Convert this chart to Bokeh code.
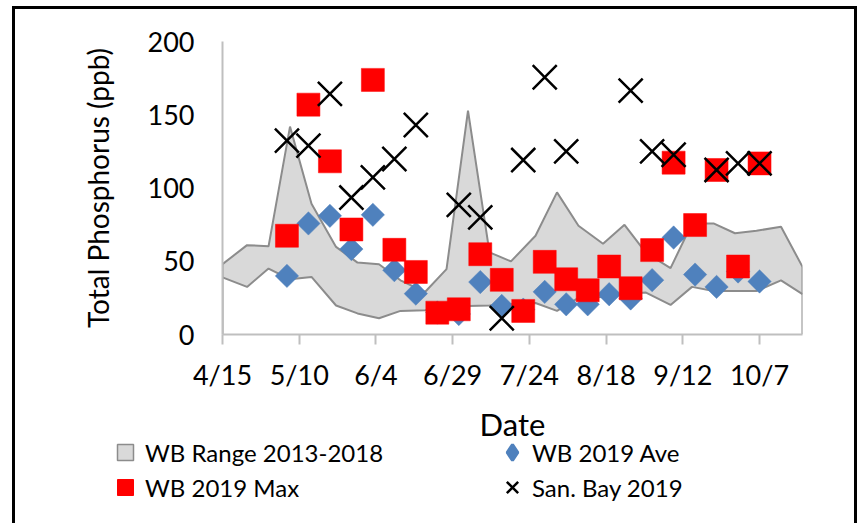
import numpy as np
import pandas as pd
from bokeh.plotting import figure
from bokeh.layouts import column
from bokeh.models import (Range1d, FixedTicker, CustomJSTickFormatter, Legend,
                          LegendItem, ColumnDataSource)
from bokeh.embed import file_html
from bokeh.resources import INLINE

# ---------------- data ----------------
range_dates = ["2019-04-15", "2019-04-23", "2019-04-30", "2019-05-07", "2019-05-14",
               "2019-05-22", "2019-05-29", "2019-06-05", "2019-06-12", "2019-06-20",
               "2019-06-27", "2019-07-04", "2019-07-11", "2019-07-18", "2019-07-26",
               "2019-08-02", "2019-08-09", "2019-08-17", "2019-08-24", "2019-08-31",
               "2019-09-08", "2019-09-15", "2019-09-22", "2019-09-29", "2019-10-06",
               "2019-10-14", "2019-10-21"]
range_low = [39.0, 32.5, 45.0, 37.7, 39.3, 19.8, 14.4, 11.1, 16.1, 16.5,
             18.8, 19.5, 19.8, 20.9, 21.5, 16.1, 25.0, 25.6, 27.7, 28.6,
             20.2, 32.5, 29.7, 29.7, 29.7, 36.9, 27.5]
range_high = [48.0, 61.0, 60.2, 141.9, 89.2, 59.8, 49.1, 48.0, 37.0, 29.0,
              44.6, 152.8, 56.1, 49.9, 67.4, 97.0, 74.2, 61.9, 74.9, 55.7,
              45.3, 75.8, 75.8, 69.1, 70.8, 73.5, 46.2]

wb_dates = ["2019-05-06", "2019-05-13", "2019-05-20", "2019-05-27", "2019-06-03",
            "2019-06-10", "2019-06-17", "2019-06-24", "2019-07-01", "2019-07-08",
            "2019-07-15", "2019-07-22", "2019-07-29", "2019-08-05", "2019-08-12",
            "2019-08-19", "2019-08-26", "2019-09-02", "2019-09-09", "2019-09-16",
            "2019-09-23", "2019-09-30", "2019-10-07"]
wb_ave = [40.0, 75.8, 81.0, 58.3, 81.7, 43.9, 27.9, 15.0, 14.0, 35.8,
          19.5, 17.0, 29.1, 20.6, 20.6, 27.5, 24.6, 37.1, 66.2, 40.9,
          32.5, 43.0, 36.2]
wb_max = [67.4, 156.9, 118.2, 71.7, 173.8, 57.8, 42.7, 14.9, 17.2, 54.8,
          37.3, 16.1, 49.6, 37.7, 30.2, 46.4, 31.6, 57.6, 117.3, 74.7,
          112.3, 46.4, 116.8]

sb_dates = ["2019-05-06", "2019-05-13", "2019-05-20", "2019-05-27", "2019-06-03",
            "2019-06-10", "2019-06-17", "2019-07-01", "2019-07-08", "2019-07-15",
            "2019-07-22", "2019-07-29", "2019-08-05", "2019-08-26", "2019-09-02",
            "2019-09-09", "2019-09-23", "2019-09-30", "2019-10-07"]
sb_vals = [132.3, 128.9, 164.2, 93.5, 107.2, 119.8, 143.0, 88.5, 79.9, 11.1,
           119.1, 175.6, 125.0, 166.5, 125.0, 122.7, 112.3, 116.8, 116.8]

tick_dates = ["2019-04-15", "2019-05-10", "2019-06-04", "2019-06-29",
              "2019-07-24", "2019-08-18", "2019-09-12", "2019-10-07"]
y_ticks = [0, 50, 100, 150, 200]

series_labels = ["WB Range 2013-2018", "WB 2019 Ave", "WB 2019 Max", "San. Bay 2019"]
x_title = "Date"
y_title = "Total Phosphorus (ppb)"

# ---------------- styles ----------------
FONT = "Lato"
RANGE_FILL, RANGE_LINE = "#d9d9d9", "#8c8c8c"
AVE_COLOR, MAX_COLOR, SB_COLOR = "#4f81bd", "#ff0000", "black"

# ---------------- main figure ----------------
rx = pd.to_datetime(range_dates)

MH = 446          # main canvas height
OVERLAP = 30      # legend strip overlaps the bottom of the main canvas
p = figure(width=839, height=MH, x_axis_type="datetime",
           output_backend="svg", toolbar_location=None,
           x_range=Range1d(rx[0], rx[-1]), y_range=Range1d(0, 200),
           min_border_left=207, min_border_right=52,
           min_border_top=32, min_border_bottom=MH - 325)
p.frame_align = False
p.xgrid.visible = False
p.ygrid.visible = False
p.outline_line_color = None

src = ColumnDataSource(dict(x=rx, low=range_low, high=range_high))
p.varea(x="x", y1="low", y2="high", source=src, fill_color=RANGE_FILL)
p.line("x", "high", source=src, line_color=RANGE_LINE, line_width=2)
p.line("x", "low", source=src, line_color=RANGE_LINE, line_width=2)
end_x = [rx[0], rx[-1]]
p.segment(x0=end_x, y0=[0, 0], x1=end_x, y1=[range_high[0], range_high[-1]],
          line_color=RANGE_LINE, line_width=2)

wbx = pd.to_datetime(wb_dates)
p.scatter(x=wbx, y=wb_ave, marker="square", angle=np.pi / 4, size=16.5,
          fill_color=AVE_COLOR, line_color=AVE_COLOR, line_width=0.5)
p.scatter(x=wbx, y=wb_max, marker="square", size=23,
          fill_color=MAX_COLOR, line_color=MAX_COLOR, line_width=0.5)
p.scatter(x=pd.to_datetime(sb_dates), y=sb_vals, marker="x", size=34,
          line_color=SB_COLOR, line_width=2.5)

p.xaxis.ticker = FixedTicker(ticks=[pd.Timestamp(d).value / 1e6 for d in tick_dates])
p.xaxis.formatter = CustomJSTickFormatter(code="""
    const d = new Date(tick);
    return (d.getUTCMonth() + 1) + "/" + d.getUTCDate();
""")
p.yaxis.ticker = FixedTicker(ticks=y_ticks)

for ax in (p.xaxis[0], p.yaxis[0]):
    ax.axis_line_color = "#bfbfbf"
    ax.axis_line_width = 2
    ax.minor_tick_line_color = None
    ax.major_label_text_font = FONT
    ax.major_label_text_font_size = "27px"
    ax.major_label_text_color = "black"
    ax.axis_label_text_font = FONT
    ax.axis_label_text_font_style = "normal"
    ax.axis_label_text_color = "black"

p.xaxis.major_tick_line_color = "#bfbfbf"
p.xaxis.major_tick_line_width = 2
p.xaxis.major_tick_out = 10
p.xaxis.major_tick_in = 0
p.xaxis.major_label_standoff = 13
p.xaxis.axis_label = x_title
p.xaxis.axis_label_text_font_size = "31px"
p.xaxis.axis_label_standoff = 11

p.yaxis.major_tick_line_color = None
p.yaxis.major_tick_out = 0
p.yaxis.major_tick_in = 0
p.yaxis.major_label_standoff = 28
p.yaxis.axis_label = y_title
p.yaxis.axis_label_text_font_size = "28px"
p.yaxis.axis_label_standoff = 30

# ---------------- legend strip ----------------
LH = 514 - MH + OVERLAP
lg = figure(width=839, height=LH, output_backend="svg", toolbar_location=None,
            x_range=Range1d(0, 1), y_range=Range1d(0, 1),
            x_axis_location=None, y_axis_location=None, min_border=0,
            styles={"margin-top": f"-{OVERLAP}px"})
lg.frame_align = False
lg.xgrid.visible = False
lg.ygrid.visible = False
lg.outline_line_color = None
lg.background_fill_color = None
lg.border_fill_color = None

# legend-only glyphs (their single point lies outside the strip's range)
off = dict(x=[5], y=[5])
leg_range = lg.scatter(marker="square", fill_color=RANGE_FILL,
                       line_color=RANGE_LINE, line_width=1.5, **off)
leg_ave = lg.scatter(marker="diamond", fill_color=AVE_COLOR,
                     line_color=AVE_COLOR, line_width=3, **off)
leg_max = lg.scatter(marker="square",
                     fill_color=MAX_COLOR, line_color=MAX_COLOR, **off)
leg_sb = lg.scatter(marker="x", line_color=SB_COLOR, line_width=2.5, **off)

GB = 40  # legend glyph box
col_x = [90, 477]
row_top = [7, 42]   # glyph-box tops inside the strip
entries = [(leg_range, 0, 0), (leg_ave, 1, 0), (leg_max, 0, 1), (leg_sb, 1, 1)]
for (rend, c, r), lab in zip(entries, series_labels):
    lg.add_layout(Legend(items=[LegendItem(label=lab, renderers=[rend])],
                         location=(col_x[c], LH - GB - row_top[r]),
                         glyph_width=GB, glyph_height=GB, label_standoff=0,
                         padding=0, margin=0, spacing=0,
                         border_line_color=None, background_fill_alpha=0,
                         label_text_font=FONT, label_text_font_size="24px",
                         label_text_color="black"), "center")

layout = column(p, lg, spacing=0,
                styles={"margin-left": "12px", "margin-top": "6px",
                        "border-left": "3px solid black",
                        "border-top": "3px solid black",
                        "border-right": "3px solid black"})

open("out.html", "w").write(file_html(layout, INLINE))
